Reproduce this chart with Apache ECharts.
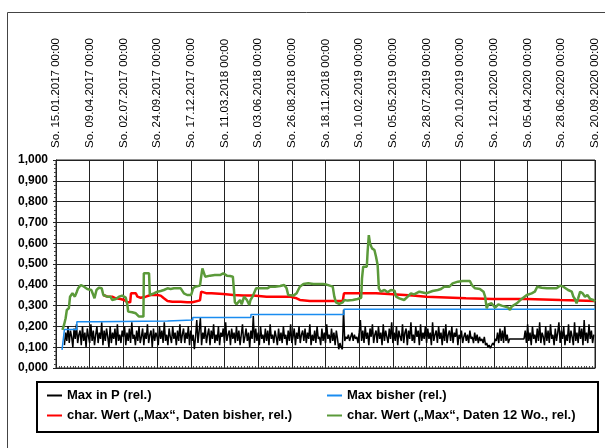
<!DOCTYPE html>
<html><head><meta charset="utf-8">
<script src="https://cdn.jsdelivr.net/npm/echarts@6/dist/echarts.min.js"></script>
<style>html,body{margin:0;padding:0;background:#fff}#c{width:605px;height:448px}</style>
</head><body><div id="c"></div>
<script>
// x values are days since So. 15.01.2017
const tickLabels = ['15.01.2017','09.04.2017','02.07.2017','24.09.2017','17.12.2017','11.03.2018','03.06.2018','26.08.2018','18.11.2018','10.02.2019','05.05.2019','28.07.2019','20.10.2019','12.01.2020','05.04.2020','28.06.2020','20.09.2020'];
const tickStepDays = 84;
const seriesNames = ['Max in P (rel.)','Max bisher (rel.)','char. Wert (\u201EMax\u201C, Daten bisher, rel.)','char. Wert (\u201EMax\u201C, Daten 12 Wo., rel.)'];

const blackStartDay = 21, blackStepDays = 3;
const blackValues = [
0.11,0.17,0.13,0.20,0.12,0.18,0.15,0.10,0.19,0.14,0.21,0.12,0.16,0.18,0.11,0.20,0.13,0.17,0.10,0.19,
0.15,0.12,0.21,0.13,0.18,0.11,0.16,0.20,0.12,0.17,0.14,0.22,0.11,0.18,0.13,0.19,0.15,0.10,0.20,0.12,
0.17,0.14,0.19,0.11,0.21,0.13,0.16,0.12,0.18,0.15,0.20,0.11,0.17,0.13,0.19,0.12,0.22,0.14,0.16,0.11,
0.18,0.13,0.20,0.12,0.15,0.19,0.11,0.17,0.14,0.21,0.12,0.16,0.18,0.10,0.19,0.13,0.17,0.15,0.11,0.20,
0.14,0.18,0.12,0.22,0.13,0.16,0.11,0.19,0.15,0.12,0.20,0.14,0.17,0.11,0.18,0.13,0.21,0.12,0.16,0.19,
0.12,0.17,0.14,0.20,0.11,0.18,0.13,0.16,0.09,0.15,0.23,0.12,0.18,0.24,0.11,0.17,0.14,0.20,0.12,0.16,
0.19,0.11,0.18,0.14,0.21,0.12,0.16,0.13,0.20,0.11,0.17,0.15,0.19,0.12,0.22,0.13,0.16,0.18,0.11,0.19,
0.14,0.17,0.12,0.20,0.13,0.18,0.11,0.16,0.21,0.12,0.15,0.19,0.13,0.17,0.10,0.18,0.14,0.25,0.12,0.19,
0.13,0.17,0.11,0.20,0.14,0.16,0.12,0.19,0.13,0.18,0.11,0.21,0.14,0.16,0.12,0.18,0.15,0.11,0.19,0.13,
0.17,0.12,0.20,0.14,0.16,0.11,0.18,0.13,0.21,0.12,0.15,0.19,0.11,0.17,0.14,0.20,0.12,0.16,0.18,0.13,
0.19,0.12,0.17,0.14,0.21,0.11,0.16,0.13,0.18,0.12,0.20,0.14,0.15,0.11,0.19,0.13,0.17,0.12,0.21,0.14,
0.16,0.12,0.19,0.13,0.17,0.11,0.18,0.14,0.09,0.12,0.10,0.09,0.28,0.13,0.15,0.14,0.16,0.13,0.15,0.17,
0.13,0.16,0.14,0.15,0.12,0.17,0.23,0.13,0.18,0.12,0.20,0.14,0.17,0.11,0.19,0.15,0.21,0.12,0.16,0.18,
0.12,0.20,0.14,0.17,0.11,0.21,0.13,0.18,0.15,0.12,0.19,0.14,0.22,0.12,0.17,0.13,0.20,0.11,0.18,0.15,
0.13,0.21,0.12,0.17,0.19,0.11,0.18,0.14,0.22,0.13,0.16,0.12,0.20,0.15,0.18,0.11,0.21,0.13,0.17,0.14,
0.20,0.12,0.19,0.14,0.17,0.11,0.22,0.13,0.16,0.18,0.12,0.20,0.14,0.17,0.11,0.19,0.13,0.21,0.12,0.16,
0.18,0.13,0.20,0.12,0.17,0.15,0.19,0.11,0.16,0.14,0.18,0.12,0.15,0.17,0.13,0.16,0.12,0.18,0.14,0.15,
0.12,0.17,0.13,0.16,0.12,0.15,0.13,0.14,0.12,0.15,0.11,0.12,0.10,0.11,0.095,0.10,0.12,0.11,0.14,0.13,
0.17,0.12,0.19,0.13,0.18,0.12,0.20,0.13,0.16,0.12,0.14,null,null,null,null,null,null,null,null,null,
null,null,0.14,0.18,0.12,0.21,0.13,0.17,0.11,0.20,0.14,0.16,0.12,0.19,0.13,0.22,0.12,0.17,0.15,0.11,
0.20,0.13,0.18,0.12,0.21,0.14,0.16,0.11,0.19,0.13,0.17,0.22,0.12,0.18,0.14,0.20,0.11,0.16,0.13,0.21,
0.12,0.18,0.15,0.11,0.22,0.13,0.17,0.12,0.20,0.14,0.19,0.11,0.23,0.13,0.17,0.12,0.21,0.14,0.18,0.12,
0.16];

const bluePoints = [[15,0.087],[18,0.135],[21,0.185],[52,0.222],[100,0.226],[278,0.231],[341,0.243],[486,0.257],[718,0.283],[1344,0.283]];

const redPoints = [[118,0.351],[128,0.343],[140,0.343],[149,0.335],[161,0.332],[170,0.327],[178,0.316],[185,0.316],[187,0.359],[199,0.359],[203,0.343],[211,0.338],[224,0.343],[236,0.351],[253,0.351],[261,0.348],[269,0.335],[278,0.322],[290,0.319],[311,0.319],[327,0.316],[340,0.316],[359,0.325],[362,0.367],[376,0.359],[388,0.359],[392,0.364],[417,0.356],[442,0.351],[467,0.348],[492,0.348],[525,0.343],[583,0.343],[600,0.335],[608,0.327],[633,0.322],[715,0.322],[718,0.359],[798,0.359],[840,0.354],[889,0.348],[923,0.343],[989,0.338],[1022,0.335],[1090,0.332],[1174,0.332],[1257,0.327],[1344,0.322]];

const greenPoints = [[16,0.183],[20,0.207],[24,0.239],[27,0.279],[32,0.287],[35,0.343],[41,0.359],[47,0.343],[52,0.367],[55,0.383],[62,0.399],[70,0.391],[78,0.380],[88,0.375],[93,0.351],[96,0.335],[101,0.375],[107,0.386],[114,0.383],[118,0.351],[128,0.343],[136,0.343],[140,0.327],[149,0.332],[157,0.343],[165,0.348],[174,0.338],[178,0.303],[180,0.271],[190,0.268],[199,0.263],[207,0.247],[218,0.247],[219,0.455],[232,0.455],[234,0.351],[244,0.359],[253,0.367],[261,0.370],[269,0.375],[278,0.383],[286,0.380],[294,0.383],[302,0.383],[311,0.383],[319,0.359],[327,0.351],[337,0.351],[342,0.383],[347,0.391],[359,0.396],[362,0.439],[365,0.479],[369,0.471],[372,0.439],[384,0.444],[396,0.447],[409,0.447],[417,0.455],[426,0.444],[434,0.442],[441,0.439],[444,0.367],[446,0.316],[450,0.306],[459,0.327],[463,0.306],[469,0.343],[476,0.327],[482,0.303],[485,0.327],[490,0.343],[499,0.383],[509,0.383],[519,0.383],[527,0.383],[534,0.391],[546,0.391],[559,0.394],[569,0.399],[575,0.383],[579,0.351],[592,0.348],[600,0.359],[608,0.391],[617,0.404],[629,0.407],[642,0.404],[654,0.404],[666,0.404],[673,0.402],[690,0.391],[694,0.343],[698,0.316],[706,0.308],[715,0.316],[719,0.327],[727,0.324],[740,0.327],[752,0.332],[761,0.338],[763,0.431],[766,0.487],[775,0.487],[777,0.559],[780,0.639],[783,0.599],[788,0.575],[794,0.567],[798,0.535],[802,0.495],[805,0.383],[810,0.367],[819,0.375],[827,0.364],[835,0.375],[844,0.372],[848,0.343],[856,0.335],[868,0.327],[877,0.343],[885,0.359],[893,0.354],[906,0.367],[923,0.359],[939,0.370],[952,0.375],[960,0.380],[968,0.391],[981,0.391],[989,0.407],[1002,0.415],[1014,0.418],[1032,0.418],[1037,0.399],[1045,0.383],[1057,0.380],[1066,0.367],[1070,0.343],[1074,0.287],[1078,0.306],[1086,0.311],[1095,0.290],[1103,0.306],[1111,0.300],[1120,0.295],[1128,0.290],[1132,0.279],[1136,0.295],[1149,0.311],[1161,0.332],[1174,0.351],[1186,0.359],[1194,0.367],[1200,0.391],[1211,0.386],[1224,0.383],[1236,0.383],[1248,0.383],[1257,0.396],[1265,0.391],[1277,0.375],[1286,0.367],[1290,0.343],[1294,0.332],[1298,0.311],[1302,0.335],[1307,0.367],[1313,0.359],[1319,0.343],[1325,0.351],[1332,0.332],[1340,0.327],[1344,0.319]];

const blackData = blackValues.map((v, i) => [blackStartDay + i * blackStepDays, v]);

const chart = echarts.init(document.getElementById('c'), null, {renderer: 'canvas'});
const FONT = 'Liberation Sans, Arial, sans-serif';
const lineCol = '#222';
chart.setOption({
  animation: false,
  backgroundColor: '#fff',
  graphic: [
    {type: 'rect', shape: {x: 7.5, y: 12.5, width: 640, height: 480}, style: {fill: 'none', stroke: '#444', lineWidth: 1}, z: 0},
    {type: 'rect', shape: {x: 37, y: 382, width: 561, height: 50}, style: {fill: 'none', stroke: '#000', lineWidth: 2}, z: 0}
  ],
  grid: {left: 56, top: 160, width: 539, height: 208, show: true, borderColor: lineCol, borderWidth: 1, backgroundColor: 'transparent'},
  legend: [
    {data: [seriesNames[0], seriesNames[2]], left: 42, top: 384, orient: 'vertical', itemGap: 7, itemWidth: 15, itemHeight: 2, icon: 'rect', selectedMode: false, textStyle: {fontFamily: FONT, fontSize: 13, fontWeight: 'bold', color: '#000'}},
    {data: [seriesNames[1], seriesNames[3]], left: 322, top: 384, orient: 'vertical', itemGap: 7, itemWidth: 15, itemHeight: 2, icon: 'rect', selectedMode: false, textStyle: {fontFamily: FONT, fontSize: 13, fontWeight: 'bold', color: '#000'}}
  ],
  xAxis: {
    type: 'value', position: 'top', min: 0, max: tickStepDays * (tickLabels.length - 1), interval: tickStepDays,
    axisLine: {show: true, lineStyle: {color: lineCol, width: 1}},
    axisTick: {show: true, length: 3, lineStyle: {color: lineCol}},
    minorTick: {show: true, splitNumber: 12, length: 2, lineStyle: {color: '#444'}},
    splitLine: {show: true, lineStyle: {color: lineCol, width: 1}},
    axisLabel: {
      rotate: 90, margin: 12, fontFamily: FONT, fontSize: 11.5, color: '#000',
      formatter: v => 'So. ' + tickLabels[Math.round(v / tickStepDays)] + ' 00:00'
    }
  },
  yAxis: {
    type: 'value', min: 0, max: 1, interval: 0.1,
    axisLine: {show: true, lineStyle: {color: lineCol, width: 1}},
    axisTick: {show: true, length: 3, lineStyle: {color: lineCol}},
    minorTick: {show: true, splitNumber: 5, length: 2, lineStyle: {color: '#444'}},
    splitLine: {show: true, lineStyle: {color: lineCol, width: 1}},
    axisLabel: {margin: 8, fontFamily: FONT, fontSize: 12, fontWeight: 'bold', color: '#000',
      formatter: v => v.toFixed(3).replace('.', ',')}
  },
  series: [
    {name: seriesNames[0], type: 'line', data: blackData, showSymbol: false, connectNulls: true, color: '#000', lineStyle: {width: 1.5, color: '#000'}, z: 2},
    {name: seriesNames[1], type: 'line', data: bluePoints, step: 'end', showSymbol: false, color: '#1a8cf0', lineStyle: {width: 1.5, color: '#1a8cf0'}, z: 3},
    {name: seriesNames[2], type: 'line', data: redPoints, showSymbol: false, color: '#ff0000', lineStyle: {width: 2.5, color: '#ff0000'}, z: 4},
    {name: seriesNames[3], type: 'line', data: greenPoints, showSymbol: false, color: '#5b9a3a', lineStyle: {width: 2.5, color: '#5b9a3a'}, z: 5}
  ]
});
</script></body></html>
